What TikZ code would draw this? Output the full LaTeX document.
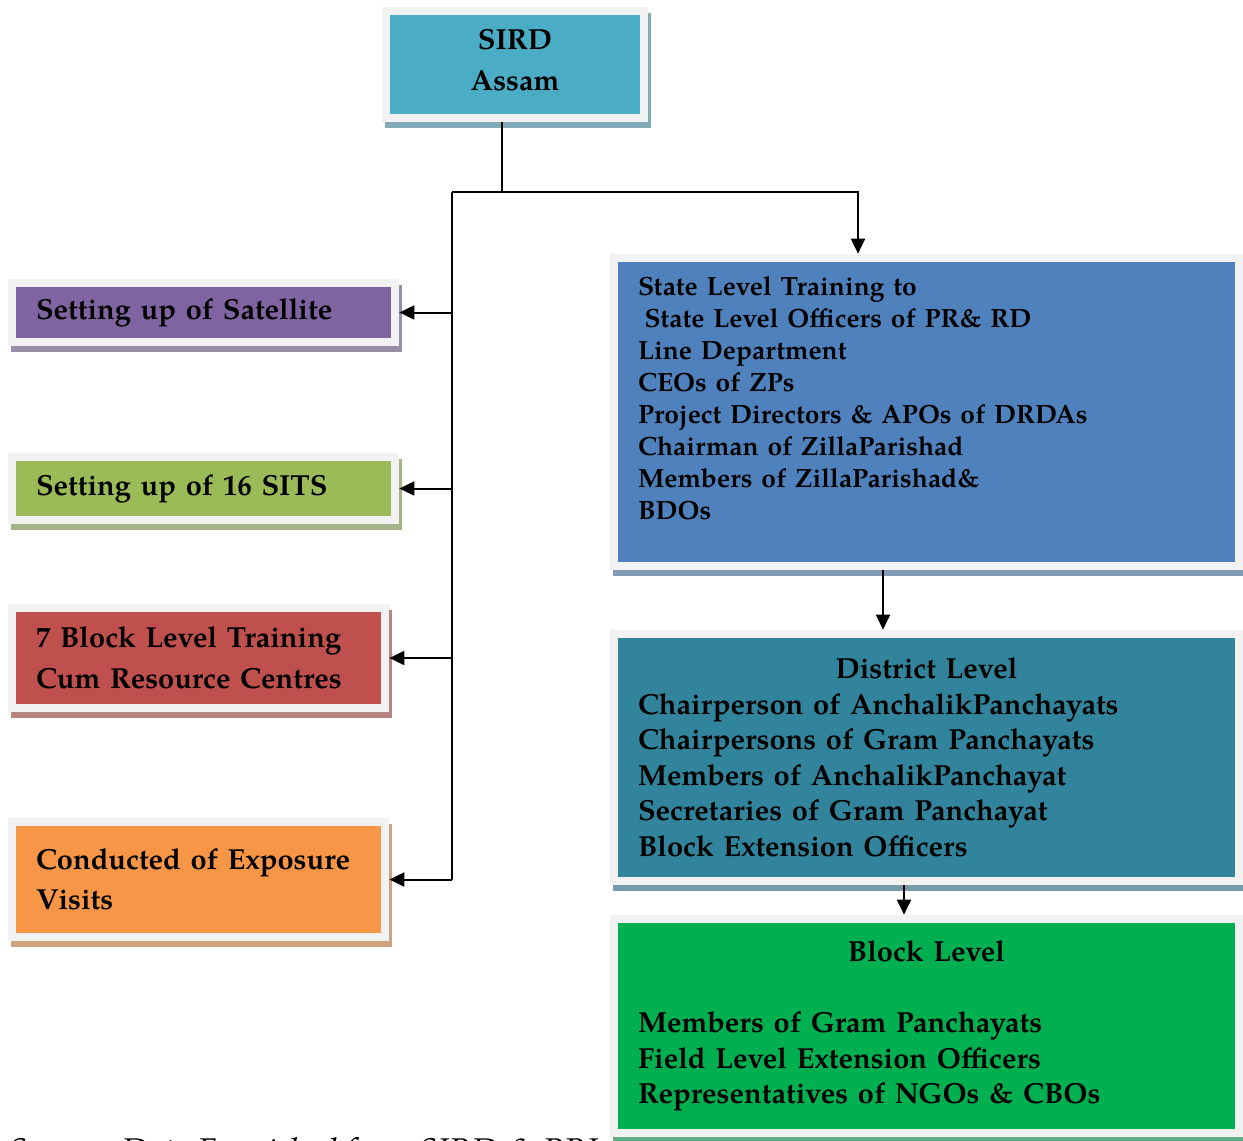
\documentclass[tikz,border=0pt]{standalone}
\usepackage{fontspec}
\setmainfont{TeX Gyre Pagella}
\usetikzlibrary{arrows.meta,shadows}
\definecolor{framegray}{HTML}{F2F2F2}
\definecolor{sirdblue}{HTML}{4BACC6}
\definecolor{satpurple}{HTML}{8064A2}
\definecolor{sitsgreen}{HTML}{9BBB59}
\definecolor{btcred}{HTML}{C0504D}
\definecolor{expoorange}{HTML}{F79646}
\definecolor{stateblue}{HTML}{4F81BD}
\definecolor{distteal}{HTML}{31849B}
\definecolor{blockgreen}{HTML}{00B050}
\newcommand{\fsLeft}{\fontsize{16.5}{23}\selectfont}
\newcommand{\fsState}{\fontsize{15}{18.2}\selectfont}
\newcommand{\fsDist}{\fontsize{16.5}{20.2}\selectfont}

\begin{document}
\begin{tikzpicture}[
    box/.style={rectangle, fill=framegray, inner xsep=0.56cm, inner ysep=0.2cm,
                align=left, font=\bfseries\fsLeft,
                drop shadow={shadow xshift=0.06cm, shadow yshift=-0.12cm, opacity=1,
                             fill=#1!55!gray!80!white},
                path picture={\fill[#1] ([shift={(0.16cm,-0.16cm)}]path picture bounding box.north west)
                                 rectangle ([shift={(-0.16cm,0.16cm)}]path picture bounding box.south east);}},
    arr/.style={-{Triangle[length=0.30cm,width=0.28cm]}, line width=0.04cm},
    link/.style={line width=0.04cm}
]
\useasboundingbox (0,0) rectangle (24.86,-22.80);

% top
\node[box=sirdblue, minimum width=5.32cm, minimum height=2.30cm, align=center] (sird) at (10.30,-1.29) {SIRD\\Assam\\[-18pt]\mbox{}};

% left column
\node[box=satpurple, minimum width=7.82cm, minimum height=1.34cm, text width=6.70cm] (sat) at (4.07,-6.25) {Setting up of Satellite};
\node[box=sitsgreen, minimum width=7.82cm, minimum height=1.42cm, text width=6.70cm] (sits) at (4.07,-9.77) {Setting up of 16 SITS};
\node[box=btcred, minimum width=7.62cm, minimum height=2.16cm, text width=6.50cm] (btc) at (3.97,-13.16) {7 Block Level Training\\Cum Resource Centres};
\node[box=expoorange, minimum width=7.62cm, minimum height=2.46cm, text width=6.50cm] (expo) at (3.97,-17.59) {Conducted of Exposure\\Visits};

% right column
\node[box=stateblue, minimum width=12.66cm, minimum height=6.32cm, text width=11.54cm, font=\bfseries\fsState] (state) at (18.53,-8.24)
  {State Level Training to\\\hspace*{0.25em}State Level Officers of PR\& RD\\Line Department\\CEOs of ZPs\\Project Directors \& APOs of DRDAs\\Chairman of ZillaParishad\\Members of ZillaParishad\&\\BDOs\\[-2pt]\mbox{}};
\node[box=distteal, minimum width=12.66cm, minimum height=5.10cm, text width=11.54cm, font=\bfseries\fsDist] (dist) at (18.53,-15.15)
  {\hfill District Level\hfill\null\\Chairperson of AnchalikPanchayats\\Chairpersons of Gram Panchayats\\Members of AnchalikPanchayat\\Secretaries of Gram Panchayat\\Block Extension Officers};
\node[box=blockgreen, minimum width=12.66cm, minimum height=4.44cm, text width=11.54cm, font=\bfseries\fsDist] (block) at (18.53,-20.52)
  {\hfill Block Level\hfill\null\\[20.2pt]Members of Gram Panchayats\\Field Level Extension Officers\\Representatives of NGOs \& CBOs};

\node[anchor=north west, inner sep=0pt, font=\itshape\fontsize{19.5}{22}\selectfont] (src) at (0.16,-22.74) {Source: Data Furnished from SIRD \& PRI};

% connectors
\coordinate (hub) at (10.04,-3.84);
\coordinate (trunk) at (9.04,-3.84);
\coordinate (toState) at (17.16,0);
\coordinate (toDist) at (17.66,0);
\coordinate (toBlock) at (18.08,0);
\draw[link] (sird.south -| hub) -- (hub);
\draw[arr] (trunk) -| (state.north -| toState);
\draw[link] (trunk) -- (trunk |- expo.east);
\draw[arr] (trunk |- sat.east) -- (sat.east);
\draw[arr] (trunk |- sits.east) -- (sits.east);
\draw[arr] (trunk |- btc.east) -- (btc.east);
\draw[arr] (trunk |- expo.east) -- (expo.east);
\draw[arr] (state.south -| toDist) -- (dist.north -| toDist);
\draw[arr] (dist.south -| toBlock) -- (block.north -| toBlock);
\end{tikzpicture}
\end{document}
